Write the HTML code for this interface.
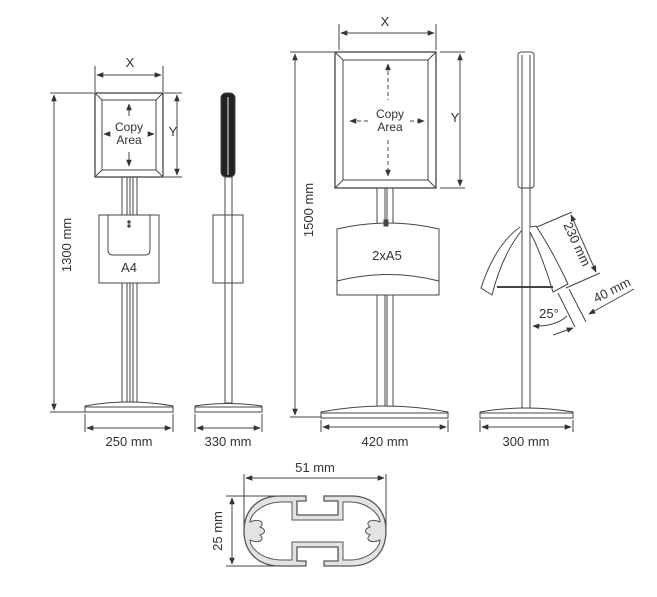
<!DOCTYPE html>
<html><head><meta charset="utf-8"><style>
html,body{margin:0;padding:0;background:#fff;}
svg{display:block;}
text{font-family:"Liberation Sans",sans-serif;fill:#333;}
</style></head><body>
<svg width="657" height="597" viewBox="0 0 657 597" xmlns="http://www.w3.org/2000/svg">
<defs>
<marker id="a" viewBox="0 0 10 10" refX="9" refY="5" markerWidth="7" markerHeight="7" orient="auto-start-reverse"><path d="M0,1 L10,5 L0,9 z" fill="#333"/></marker>
</defs>
<g stroke="#444" fill="none" stroke-width="1">
<!-- ===== Stand 1 front ===== -->
<line x1="95" y1="66" x2="95" y2="92"/><line x1="163" y1="66" x2="163" y2="92"/>
<line x1="97" y1="75" x2="161" y2="75" marker-start="url(#a)" marker-end="url(#a)"/>
<line x1="164" y1="93" x2="182" y2="93"/><line x1="164" y1="177" x2="182" y2="177"/>
<line x1="177" y1="95" x2="177" y2="175" marker-start="url(#a)" marker-end="url(#a)"/>
<line x1="50" y1="93" x2="94" y2="93"/><line x1="50" y1="412" x2="88" y2="412"/>
<line x1="54" y1="95" x2="54" y2="410" marker-start="url(#a)" marker-end="url(#a)"/>
<rect x="122" y="177" width="15" height="226" fill="#fff"/>
<line x1="127" y1="177" x2="127" y2="403"/><line x1="130" y1="177" x2="130" y2="403"/><line x1="133" y1="177" x2="133" y2="403"/>
<rect x="95" y="93" width="68" height="84" fill="#fff" stroke-width="1.3"/>
<rect x="102" y="100" width="54" height="70"/>
<line x1="95" y1="93" x2="102" y2="100"/><line x1="163" y1="93" x2="156" y2="100"/><line x1="95" y1="177" x2="102" y2="170"/><line x1="163" y1="177" x2="156" y2="170"/>
<line x1="129" y1="104" x2="129" y2="116" marker-start="url(#a)"/>
<line x1="129" y1="152" x2="129" y2="166" marker-end="url(#a)"/>
<line x1="104" y1="134" x2="108" y2="134" marker-start="url(#a)"/>
<line x1="150" y1="134" x2="154" y2="134" marker-end="url(#a)"/>
<rect x="99" y="215" width="60" height="68" fill="#fff"/>
<path d="M108,215 V250 Q108,255 113,255 H145 Q150,255 150,250 V215"/>
<circle cx="129" cy="222" r="1.2" fill="#444"/><circle cx="129" cy="226" r="1.2" fill="#444"/>
<path d="M85,412 V406 Q129,398 173,406 V412 Z" fill="#fff"/>
<line x1="85" y1="407" x2="173" y2="407"/>
<line x1="85" y1="414" x2="85" y2="432"/><line x1="173" y1="414" x2="173" y2="432"/>
<line x1="87" y1="428" x2="171" y2="428" marker-start="url(#a)" marker-end="url(#a)"/>
<!-- ===== Stand 1 side ===== -->
<rect x="225" y="177" width="7" height="226" fill="#fff"/>
<rect x="221" y="93" width="14" height="84" rx="5" fill="#222"/>
<rect x="227" y="97" width="2" height="78" fill="#888" stroke="none"/>
<rect x="213" y="215" width="30" height="68" fill="#fff"/>
<line x1="225" y1="215" x2="225" y2="283"/><line x1="232" y1="215" x2="232" y2="283"/>
<path d="M195,412 V406 Q228,401 262,406 V412 Z" fill="#fff"/>
<line x1="195" y1="407" x2="262" y2="407"/>
<line x1="195" y1="414" x2="195" y2="432"/><line x1="262" y1="414" x2="262" y2="432"/>
<line x1="197" y1="428" x2="260" y2="428" marker-start="url(#a)" marker-end="url(#a)"/>
<!-- ===== Stand 2 front ===== -->
<line x1="339" y1="24" x2="339" y2="50"/><line x1="436" y1="24" x2="436" y2="50"/>
<line x1="341" y1="33" x2="434" y2="33" marker-start="url(#a)" marker-end="url(#a)"/>
<line x1="440" y1="52" x2="465" y2="52"/><line x1="440" y1="188" x2="465" y2="188"/>
<line x1="460" y1="54" x2="460" y2="186" marker-start="url(#a)" marker-end="url(#a)"/>
<line x1="290" y1="52" x2="334" y2="52"/><line x1="290" y1="417" x2="322" y2="417"/>
<line x1="295" y1="54" x2="295" y2="415" marker-start="url(#a)" marker-end="url(#a)"/>
<rect x="377" y="188" width="16" height="220" fill="#fff"/>
<line x1="385" y1="188" x2="385" y2="408"/><line x1="387" y1="188" x2="387" y2="408"/>
<rect x="335" y="52" width="101" height="136" fill="#fff" stroke-width="1.3"/>
<rect x="343" y="60" width="85" height="120"/>
<line x1="335" y1="52" x2="343" y2="60"/><line x1="436" y1="52" x2="428" y2="60"/><line x1="335" y1="188" x2="343" y2="180"/><line x1="436" y1="188" x2="428" y2="180"/>
<line x1="388" y1="64" x2="388" y2="100" stroke-dasharray="4,3" marker-start="url(#a)"/>
<line x1="388" y1="140" x2="388" y2="176" stroke-dasharray="4,3" marker-end="url(#a)"/>
<line x1="350" y1="121" x2="368" y2="121" stroke-dasharray="4,3" marker-start="url(#a)"/>
<line x1="410" y1="121" x2="424" y2="121" stroke-dasharray="4,3" marker-end="url(#a)"/>
<path d="M337,295 V229 Q388,217 439,229 V295 Z" fill="#fff"/>
<path d="M337,281 Q388,268 439,281"/>
<rect x="384" y="220" width="4" height="6" fill="#444"/>
<path d="M321,418 V412 Q384,400 448,412 V418 Z" fill="#fff"/>
<line x1="321" y1="413" x2="448" y2="413"/>
<line x1="321" y1="420" x2="321" y2="432"/><line x1="448" y1="420" x2="448" y2="432"/>
<line x1="323" y1="427" x2="446" y2="427" marker-start="url(#a)" marker-end="url(#a)"/>
<!-- ===== Stand 2 side ===== -->
<rect x="522" y="188" width="8" height="220" fill="#fff"/>
<rect x="518" y="52" width="16" height="136" rx="3" fill="#fff"/>
<line x1="522" y1="55" x2="522" y2="188"/><line x1="530" y1="55" x2="530" y2="188"/>
<path d="M520,227 Q495,245 481,288 L492,295 Q502,255 522,230" fill="#fff"/>
<path d="M530,227 L536,226 Q552,250 568,284 L553,292 Q542,255 530,232" fill="#fff"/>
<line x1="497" y1="287" x2="553" y2="287" stroke-width="2"/>
<line x1="537" y1="227" x2="572" y2="212"/><line x1="566" y1="288" x2="600" y2="273"/>
<line x1="571" y1="215" x2="596" y2="272" marker-start="url(#a)" marker-end="url(#a)"/>
<line x1="558" y1="293" x2="575" y2="327"/><line x1="569" y1="289" x2="586" y2="322"/>
<line x1="634" y1="289" x2="589" y2="314" marker-end="url(#a)"/>
<line x1="553" y1="335" x2="573" y2="328" marker-end="url(#a)"/>
<path d="M567,316 Q555,327 533,326" marker-end="url(#a)"/>
<path d="M480,418 V412 Q526,404 573,412 V418 Z" fill="#fff"/>
<line x1="480" y1="413" x2="573" y2="413"/>
<line x1="480" y1="420" x2="480" y2="432"/><line x1="573" y1="420" x2="573" y2="432"/>
<line x1="482" y1="427" x2="571" y2="427" marker-start="url(#a)" marker-end="url(#a)"/>
<!-- ===== Profile ===== -->
<line x1="244" y1="474" x2="244" y2="531"/><line x1="386" y1="474" x2="386" y2="531"/>
<line x1="246" y1="478" x2="384" y2="478" marker-start="url(#a)" marker-end="url(#a)"/>
<line x1="226" y1="496" x2="280" y2="496"/><line x1="226" y1="566" x2="280" y2="566"/>
<line x1="232" y1="498" x2="232" y2="564" marker-start="url(#a)" marker-end="url(#a)"/>
<path d="M280,496 H306 V501 H297 V515 H338 V501 H324 V496 H351 C375,496 386,512 386,531 C386,550 375,566 351,566 H324 V561 H338 V547 H297 V561 H306 V566 H280 C256,566 244,550 244,531 C244,512 256,496 280,496 Z" fill="#e3e3e3" stroke="#555" stroke-width="1.3"/>
<path d="M282,502 H292 V520 H343 V502 H350 C368,502 380,515 380,522 C372,518 364,522 370,527 C364,529 364,533 370,535 C364,540 372,544 380,540 C380,548 368,560 350,560 H343 V542 H292 V560 H282 C262,560 250,548 250,540 C258,544 266,540 260,535 C266,533 266,529 260,527 C266,522 258,518 250,522 C250,515 262,502 282,502 Z" fill="#fff" stroke="#555"/>
</g>
<g font-size="13" text-anchor="middle">
<text x="130" y="67">X</text>
<text x="173" y="136">Y</text>
<text x="129" y="131" font-size="12">Copy</text>
<text x="129" y="144" font-size="12">Area</text>
<text x="129" y="272">A4</text>
<text x="129" y="446">250 mm</text>
<text x="228" y="446">330 mm</text>
<text transform="translate(71,245) rotate(-90)">1300 mm</text>
<text x="385" y="26">X</text>
<text x="455" y="122">Y</text>
<text x="390" y="118" font-size="12">Copy</text>
<text x="390" y="131" font-size="12">Area</text>
<text x="387" y="260">2xA5</text>
<text x="385" y="446">420 mm</text>
<text transform="translate(313,210) rotate(-90)">1500 mm</text>
<text x="526" y="446">300 mm</text>
<text transform="translate(573,246) rotate(65)">230 mm</text>
<text transform="translate(614,294) rotate(-27)">40 mm</text>
<text x="549" y="318">25°</text>
<text x="315" y="472">51 mm</text>
<text transform="translate(222,531) rotate(-90)">25 mm</text>
</g>
</svg>
</body></html>
